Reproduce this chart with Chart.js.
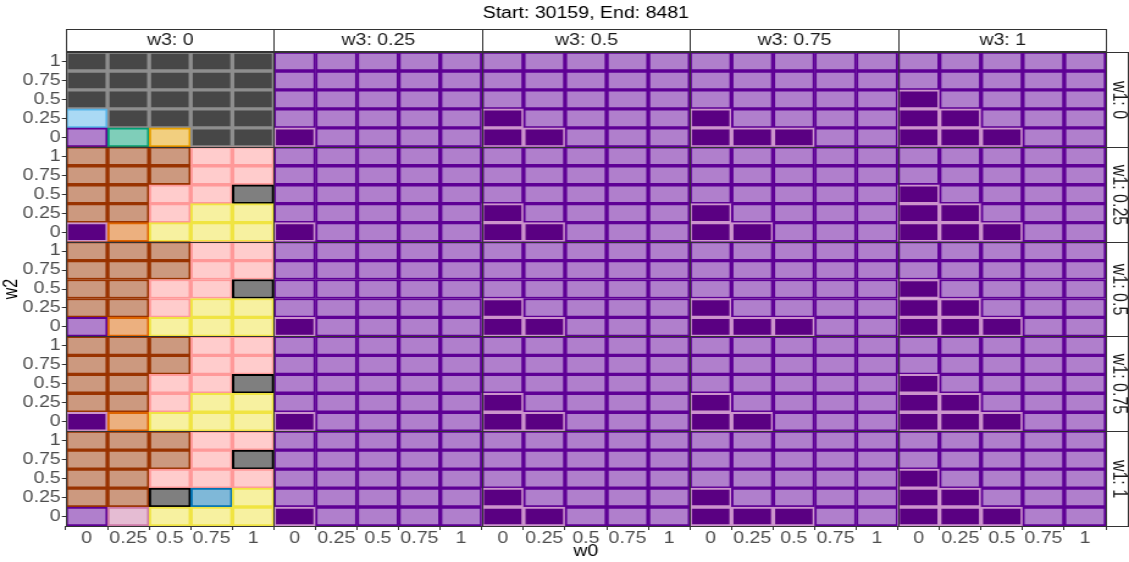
<!DOCTYPE html>
<html>
<head>
<meta charset="utf-8">
<script src="https://cdn.jsdelivr.net/npm/chart.js@4.4.1/dist/chart.umd.min.js"></script>
<style>
  html, body { margin: 0; padding: 0; background: #fff; overflow: hidden; }
  canvas { display: block; }
</style>
</head>
<body>
<!-- drawn narrower and shown wider: the reference text is stretched horizontally -->
<canvas id="chart" width="925" height="562" style="width:1129px;height:562px"></canvas>
<script>
const title = "Start: 30159, End: 8481";
const w0Levels = ["0", "0.25", "0.5", "0.75", "1"];
const w2Levels = ["0", "0.25", "0.5", "0.75", "1"];
const w1Levels = ["0", "0.25", "0.5", "0.75", "1"];
const w3Levels = ["0", "0.25", "0.5", "0.75", "1"];

// one grid per w1 level; each string is a w2 row (1 at top, 0 at bottom), one letter per w0 value
const cellsW3_0 = [
  ["GGGGG", "GGGGG", "GGGGG", "BGGGG", "PTOGG"],
  ["RRRKK", "RRRKK", "RRKKX", "RRKYY", "DVYYY"],
  ["RRRKK", "RRRKK", "RRKKX", "RRKYY", "PVYYY"],
  ["RRRKK", "RRRKK", "RRKKX", "RRKYY", "DVYYY"],
  ["RRRKK", "RRRKX", "RRKKK", "RRXUY", "PMYYY"]
];
const cellsW3_025 = [
  ["PPPPP", "PPPPP", "PPPPP", "PPPPP", "DPPPP"],
  ["PPPPP", "PPPPP", "PPPPP", "PPPPP", "DPPPP"],
  ["PPPPP", "PPPPP", "PPPPP", "PPPPP", "DPPPP"],
  ["PPPPP", "PPPPP", "PPPPP", "PPPPP", "DPPPP"],
  ["PPPPP", "PPPPP", "PPPPP", "PPPPP", "DPPPP"]
];
const cellsW3_05 = [
  ["PPPPP", "PPPPP", "PPPPP", "DPPPP", "DDPPP"],
  ["PPPPP", "PPPPP", "PPPPP", "DPPPP", "DDPPP"],
  ["PPPPP", "PPPPP", "PPPPP", "DPPPP", "DDPPP"],
  ["PPPPP", "PPPPP", "PPPPP", "DPPPP", "DDPPP"],
  ["PPPPP", "PPPPP", "PPPPP", "DPPPP", "DDPPP"]
];
const cellsW3_075 = [
  ["PPPPP", "PPPPP", "PPPPP", "DPPPP", "DDDPP"],
  ["PPPPP", "PPPPP", "PPPPP", "DPPPP", "DDPPP"],
  ["PPPPP", "PPPPP", "PPPPP", "DPPPP", "DDDPP"],
  ["PPPPP", "PPPPP", "PPPPP", "DPPPP", "DDPPP"],
  ["PPPPP", "PPPPP", "PPPPP", "DPPPP", "DDDPP"]
];
const cellsW3_1 = [
  ["PPPPP", "PPPPP", "DPPPP", "DDPPP", "DDDPP"],
  ["PPPPP", "PPPPP", "DPPPP", "DDPPP", "DDDPP"],
  ["PPPPP", "PPPPP", "DPPPP", "DDPPP", "DDDPP"],
  ["PPPPP", "PPPPP", "DPPPP", "DDPPP", "DDDPP"],
  ["PPPPP", "PPPPP", "DPPPP", "DDPPP", "DDDPP"]
];

const cellStyles = {
  G: { fill: "#474747", border: "#8e8e8e" },
  B: { fill: "#aad9f4", border: "#56b4e9" },
  P: { fill: "#b07fcc", border: "#5e0095" },
  T: { fill: "#7fceb9", border: "#009e73" },
  O: { fill: "#f2cf7f", border: "#e69f00" },
  R: { fill: "#cc997f", border: "#993300" },
  K: { fill: "#ffcccc", border: "#ff9999" },
  Y: { fill: "#f7f1a0", border: "#f0e442" },
  X: { fill: "#7f7f7f", border: "#000000" },
  V: { fill: "#ecb07f", border: "#dd6400" },
  D: { fill: "#5a0082", border: "#cc94cc" },
  M: { fill: "#e5bcd3", border: "#cc79a7" },
  U: { fill: "#7fb8d8", border: "#0072b2" }
};

const grids = [cellsW3_0, cellsW3_025, cellsW3_05, cellsW3_075, cellsW3_1];
const cells = [];
grids.forEach((grid, p) => {
  grid.forEach((rows, q) => {
    rows.forEach((row, r) => {
      const yv = (4 - q) * 5 + (4 - r);
      [...row].forEach((code, i) => {
        cells.push({ x: p * 5 + i, y: [yv - 0.5, yv + 0.5], code: code });
      });
    });
  });
});

const FONT = '"Liberation Sans", Arial, sans-serif';

const facetPlugin = {
  id: 'facets',
  afterDraw(chart) {
    const { ctx, scales: { x, y } } = chart;
    const r = v => Math.round(v) + 0.5;
    ctx.save();
    ctx.lineWidth = 1;
    ctx.strokeStyle = '#333333';

    // panel borders
    for (let p = 0; p < 5; p++) {
      const left = r(x.getPixelForValue(p * 5 - 0.5));
      const right = r(x.getPixelForValue(p * 5 + 4.5));
      for (let q = 0; q < 5; q++) {
        const top = r(y.getPixelForValue((4 - q) * 5 + 4.5));
        const bottom = r(y.getPixelForValue((4 - q) * 5 - 0.5));
        ctx.strokeRect(left, top, right - left, bottom - top);
      }
    }

    ctx.font = '16px ' + FONT;
    ctx.textAlign = 'center';
    ctx.textBaseline = 'middle';

    // top strips (w3)
    for (let p = 0; p < 5; p++) {
      const left = r(x.getPixelForValue(p * 5 - 0.5));
      const right = r(x.getPixelForValue(p * 5 + 4.5));
      ctx.fillStyle = '#ffffff';
      ctx.fillRect(left, 29.5, right - left, 22);
      ctx.strokeRect(left, 29.5, right - left, 22);
      ctx.fillStyle = '#1a1a1a';
      ctx.fillText('w3: ' + w3Levels[p], (left + right) / 2, 41);
    }

    // right strips (w1)
    const sl = r(chart.chartArea.right);
    for (let q = 0; q < 5; q++) {
      const top = r(y.getPixelForValue((4 - q) * 5 + 4.5));
      const bottom = r(y.getPixelForValue((4 - q) * 5 - 0.5));
      ctx.fillStyle = '#ffffff';
      ctx.fillRect(sl, top, 18, bottom - top);
      ctx.strokeRect(sl, top, 18, bottom - top);
      ctx.save();
      ctx.translate(sl + 10, (top + bottom) / 2);
      ctx.rotate(Math.PI / 2);
      ctx.fillStyle = '#1a1a1a';
      ctx.fillText('w1: ' + w1Levels[q], 0, 0);
      ctx.restore();
    }

    // title
    ctx.fillStyle = '#000000';
    ctx.fillText(title, (chart.chartArea.left + chart.chartArea.right) / 2, 14);
    ctx.restore();
  }
};

const tickFont = { family: FONT, size: 16 };

new Chart(document.getElementById('chart'), {
  type: 'bar',
  data: {
    datasets: [{
      data: cells,
      backgroundColor: c => c.raw ? cellStyles[c.raw.code].fill : '#000',
      borderColor: c => c.raw ? cellStyles[c.raw.code].border : '#000',
      borderWidth: 2,
      borderSkipped: false,
      barPercentage: 1,
      categoryPercentage: 1
    }]
  },
  options: {
    responsive: false,
    animation: false,
    layout: { padding: { top: 52, right: 19, left: 0, bottom: 0 } },
    plugins: { legend: { display: false }, tooltip: { enabled: false } },
    scales: {
      x: {
        type: 'linear',
        offset: false,
        min: -0.5,
        max: 24.5,
        afterBuildTicks: s => { s.ticks = w3Levels.flatMap((_, p) => w0Levels.map((__, i) => ({ value: p * 5 + i }))); },
        afterFit: s => { s.height = 36; },
        grid: { display: true, drawOnChartArea: false, drawTicks: true, tickLength: 4, color: '#333333' },
        border: { display: false },
        ticks: { autoSkip: false, maxRotation: 0, padding: -1, color: '#4d4d4d', font: tickFont, callback: v => w0Levels[v % 5] },
        title: { display: true, text: 'w0', color: '#000000', font: tickFont, padding: { top: 0, bottom: 1 } }
      },
      y: {
        type: 'linear',
        offset: false,
        min: -0.5,
        max: 24.5,
        afterBuildTicks: s => { s.ticks = w1Levels.flatMap((_, q) => w2Levels.map((__, j) => ({ value: q * 5 + j }))); },
        afterFit: s => { s.width = 54; },
        grid: { display: true, drawOnChartArea: false, drawTicks: true, tickLength: 3.3, color: '#333333' },
        border: { display: false },
        ticks: { autoSkip: false, padding: 1, color: '#4d4d4d', font: tickFont, callback: v => w2Levels[v % 5] },
        title: { display: true, text: 'w2', color: '#000000', font: tickFont, padding: { top: 0, bottom: 0 } }
      }
    }
  },
  plugins: [facetPlugin]
});
</script>
</body>
</html>
